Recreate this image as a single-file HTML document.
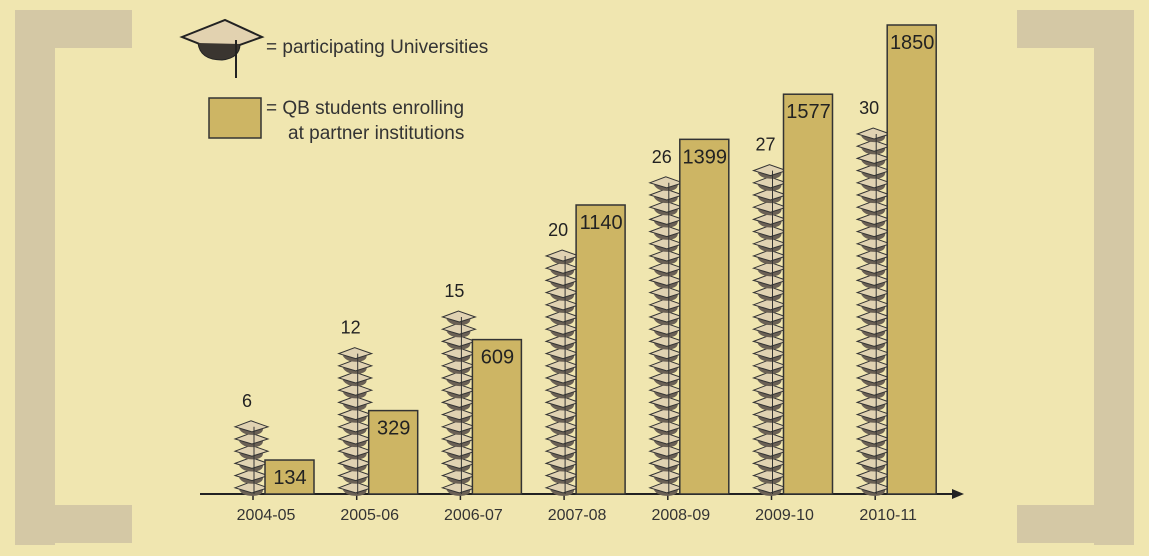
<!DOCTYPE html>
<html><head><meta charset="utf-8"><style>
html,body{margin:0;padding:0;background:#f0e6b0;}
svg{display:block;font-family:"Liberation Sans",sans-serif;}
</style></head><body>
<svg width="1149" height="556" viewBox="0 0 1149 556">
<rect width="1149" height="556" fill="#f0e6b0"/>
<g fill="#d4c8a5">
<rect x="15" y="10" width="40" height="535"/><rect x="15" y="10" width="117" height="38"/><rect x="15" y="505" width="117" height="38"/>
</g>
<g fill="#d4c8a5">
<rect x="1094" y="10" width="40" height="535"/><rect x="1017" y="10" width="117" height="38"/><rect x="1017" y="505" width="117" height="38"/>
</g>
<g>
<g>
<polygon points="182,37 225,20 262,37 220,52" fill="#e2d2b0" stroke="#222" stroke-width="2"/>
<path d="M198,43 Q200,60 222,60 Q240,58 240,44" fill="#3a3530" stroke="#222"/>
<line x1="236" y1="40" x2="236" y2="78" stroke="#222" stroke-width="2"/>
</g>
<text x="266" y="53" font-size="19" fill="#333">= participating Universities</text>
<rect x="209" y="98" width="52" height="40" fill="#cdb564" stroke="#333" stroke-width="1.5"/>
<text x="266" y="114" font-size="19" fill="#333">= QB students enrolling</text>
<text x="288" y="139" font-size="19" fill="#333">at partner institutions</text>
</g>
<g id="plot"></g>
</svg>
<script>
const years = ["2004-05","2005-06","2006-07","2007-08","2008-09","2009-10","2010-11"];
const universities = [6,12,15,20,26,27,30];
const students = [134,329,609,1140,1399,1577,1850];
const NS="http://www.w3.org/2000/svg";
const g=document.getElementById('plot');
const base=494;
function x(i){return 265+103.7*i;}
function yS(v){return base-v*(469/1850);}
function capY(k){return base-12.2*(k+1);}
function mk(t,a,txt){const e=document.createElementNS(NS,t);for(const k in a)e.setAttribute(k,a[k]);if(txt!=null)e.textContent=txt;g.appendChild(e);return e;}
const axis=mk('line',{x1:200,y1:base,x2:956,y2:base,stroke:'#222','stroke-width':2});


const arr=mk('polygon',{points:`952,${base-5} 964,${base} 952,${base+5}`,fill:'#222'});


years.forEach((yr,i)=>{
  const bx=x(i), c=bx-12;
  const tk=mk('line',{x1:c,y1:base,x2:c,y2:base+6,stroke:'#222','stroke-width':1.5});
  
  
  const lb=mk('text',{x:bx+1,y:base+26,'font-size':16,fill:'#333','text-anchor':'middle'},yr);
  
  
  for(let k=0;k<universities[i];k++){
    const y=capY(k);
    const un=mk('path',{d:`M${c-14},${y+8} Q${c-10},${y+15} ${c+2},${y+14} Q${c+10},${y+13} ${c+10},${y+8} Z`,fill:'#6a6055'});
    
    
    const cp=mk('polygon',{points:`${c-18},${y+6} ${c-2},${y} ${c+15},${y+6} ${c-1},${y+11}`,fill:'#e0d2b2',stroke:'#333','stroke-width':1});
    
    
  }
  const st=mk('line',{x1:c+1,y1:capY(universities[i]-1)+6,x2:c+1,y2:base,stroke:'#333','stroke-width':1});
  
  
  const ul=mk('text',{x:c-6,y:capY(universities[i]-1)-14,'font-size':18,fill:'#222','text-anchor':'middle'},universities[i]);
  
  
  const top=yS(students[i]);
  const b=mk('rect',{x:bx,y:top,width:49,height:base-top,fill:'#cdb564',stroke:'#333','stroke-width':1.5});
  
  
  const sl=mk('text',{x:bx+25,y:top+24,'font-size':20,fill:'#222','text-anchor':'middle'},students[i]);
  
  
});
</script>
</body></html>
